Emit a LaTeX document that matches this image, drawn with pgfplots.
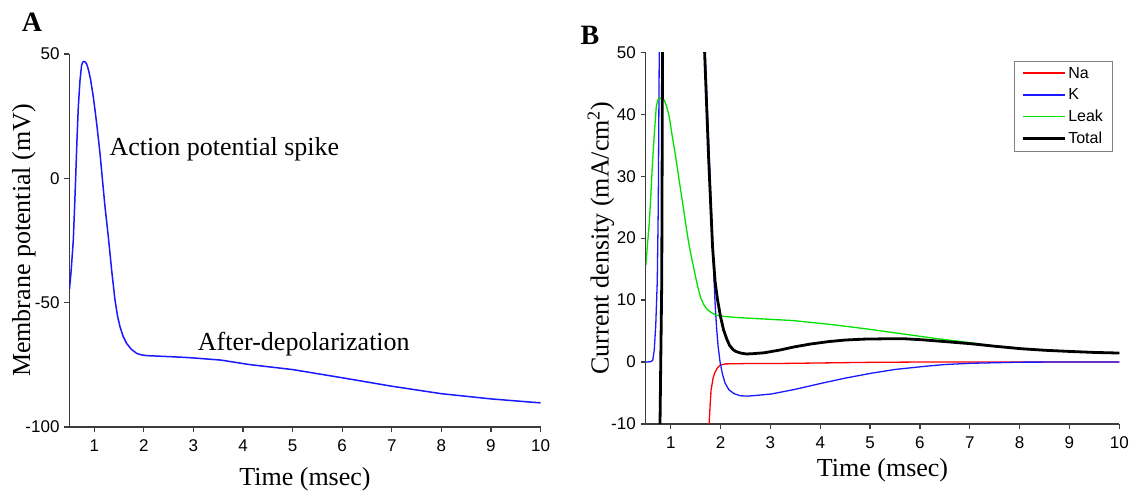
\documentclass[border=0pt]{standalone}
\usepackage{fontspec}
\setmainfont{Liberation Serif}
\newfontfamily\sansf{Liberation Sans}
\usepackage{pgfplots}
\pgfplotsset{compat=1.18}

\definecolor{axgray}{RGB}{60,60,60}
\definecolor{vblue}{RGB}{25,25,255}
\definecolor{lgreen}{RGB}{0,225,0}
\definecolor{nared}{RGB}{255,0,0}

\pgfplotsset{
  panel/.style={
    scale only axis,
    axis x line*=bottom, axis y line*=left,
    axis line style={draw=axgray, line width=1.2pt},
    tick style={draw=axgray, line width=1.2pt},
    tick align=outside, major tick length=5pt,
    xmin=0.5, xmax=10, xtick={1,...,10},
    tick label style={font=\fontsize{17}{17}\selectfont\sansf},
    xticklabel style={yshift=-4pt},
    yticklabel style={xshift=-1.5pt},
    /pgf/number format/assume math mode=true,
    label style={font=\fontsize{26}{26}\selectfont},
  }
}

\begin{document}
\begin{tikzpicture}
\useasboundingbox (0,0) rectangle (1138pt,491pt);

% panel A: membrane potential
\begin{axis}[panel,
    at={(69.5pt,64pt)}, anchor=south west,
    width=471pt, height=373pt,
    ymin=-100, ymax=50, ytick={-100,-50,0,50},
    xlabel={Time (msec)},
    xlabel style={at={(axis description cs:0.5,-0.139)}, anchor=center},
    ylabel={Membrane potential (mV)},
    ylabel style={at={(axis description cs:-0.097,0.5)}, anchor=center},
]
\addplot[vblue, line width=1.5pt] coordinates {
(0.50,-44.5) (0.53,-38) (0.555,-31) (0.577,-24.8) (0.60,-13) (0.624,0)
(0.65,15) (0.678,28.8) (0.712,39.5) (0.745,45.6) (0.77,46.8) (0.79,47.0)
(0.815,46.8) (0.84,46.2) (0.86,45.2) (0.89,43) (0.927,39.5) (0.98,32.8)
(1.048,22.1) (1.115,10.1) (1.162,0) (1.216,-11.4) (1.283,-23.5) (1.35,-36.9)
(1.418,-49) (1.47,-55.5) (1.519,-59.7) (1.58,-63.5) (1.653,-66.4) (1.75,-68.8)
(1.855,-70.4) (1.95,-71) (2.06,-71.3) (2.4,-71.6) (2.73,-71.9) (2.98,-72.2)
(3.56,-73.1) (4.13,-74.9) (5.00,-76.9) (6.00,-80.2) (7.00,-83.6) (8.00,-86.6)
(9.00,-88.7) (10.0,-90.3)
};
\node[anchor=base west, font=\fontsize{26}{26}\selectfont] at (axis cs:1.236,9) {Action potential spike};
\node[anchor=base west, font=\fontsize{26}{26}\selectfont] at (axis cs:3.02,-69.4) {After-depolarization};
\end{axis}

% panel B: currents
\begin{axis}[panel,
    at={(645.8pt,67pt)}, anchor=south west,
    width=473.5pt, height=371.7pt,
    ymin=-10, ymax=50, ytick={-10,0,...,50},
    xlabel={Time (msec)},
    xlabel style={at={(axis description cs:0.5,-0.124)}, anchor=center},
    ylabel={Current density (mA/cm\textsuperscript{2})},
    ylabel style={at={(axis description cs:-0.095,0.5)}, anchor=center},
    legend style={at={(0.985,0.977)}, anchor=north east, draw=gray,
      font=\fontsize{16}{16}\selectfont\sansf, row sep=5pt,
      inner xsep=7pt, inner ysep=4pt},
    legend cell align=left,
    legend image code/.code={\draw[#1] (0pt,0pt) -- (42pt,0pt);},
]
\addplot[color=nared, line width=1.3pt, legend image post style={line width=1.7pt}] coordinates {
(0.5,-40) (0.8,-300) (1.2,-150) (1.6,-30) (1.72,-13) (1.77,-10) (1.79,-7)
(1.81,-4.5) (1.85,-2.6) (1.88,-1.8) (1.94,-0.9) (1.99,-0.5) (2.1,-0.3)
(2.5,-0.25) (3.0,-0.25) (4.0,-0.15) (5.0,-0.05) (6.0,0) (10,0)
};
\addlegendentry{Na}
\addplot[color=vblue, line width=1.3pt, legend image post style={line width=1.7pt}] coordinates {
(0.5,0) (0.6,0.05) (0.64,0.3) (0.67,2) (0.70,6) (0.73,13) (0.75,25) (0.77,50)
(0.8,120) (1.2,400) (1.6,120) (1.69,50) (1.78,31.6) (1.84,19) (1.87,13.2)
(1.89,9.5) (1.92,5.5) (1.95,2.6) (1.99,0) (2.04,-2) (2.09,-3.4) (2.17,-4.5)
(2.27,-5.1) (2.4,-5.45) (2.55,-5.5) (2.7,-5.4) (3.02,-5.16) (3.5,-4.4)
(4.02,-3.44) (4.5,-2.6) (5.03,-1.8) (5.5,-1.2) (6.03,-0.75) (6.5,-0.4)
(7.03,-0.2) (8.03,-0.02) (9,0) (10,0)
};
\addlegendentry{K}
\addplot[color=lgreen, line width=1.3pt, legend image post style={line width=1.7pt}] coordinates {
(0.5,15.6) (0.53,18.6) (0.57,22.5) (0.6,26.8) (0.63,31.5) (0.667,36.4)
(0.71,41.2) (0.74,42.3) (0.77,42.6) (0.82,42.6) (0.87,42.3) (0.92,41.2)
(0.97,39.6) (1.03,36.5) (1.1,33.1) (1.17,29.3) (1.24,25.6) (1.31,21.8)
(1.37,18.8) (1.44,16) (1.5,13.7) (1.55,11.9) (1.6,10.4) (1.66,9.3)
(1.73,8.5) (1.81,8.0) (1.9,7.6) (2.02,7.4) (2.3,7.2) (2.74,7.0) (3.45,6.7)
(4.17,6.1) (4.88,5.4) (5.6,4.6) (6.32,3.8) (7.03,3.1) (7.5,2.6) (8.03,2.2)
(8.5,1.95) (9,1.75) (9.5,1.6) (10,1.45)
};
\addlegendentry{Leak}
\addplot[color=black, line width=2.8pt] coordinates {
(0.5,-60) (0.7,-200) (0.77,-30) (0.785,-10) (0.80,0) (0.82,13) (0.835,50)
(0.9,200) (1.3,400) (1.6,150) (1.68,50) (1.76,33) (1.84,18.5) (1.89,13)
(1.94,10) (2.0,7.3) (2.06,5.2) (2.12,3.8) (2.18,2.7) (2.25,2.0) (2.31,1.7)
(2.4,1.45) (2.52,1.3) (2.65,1.35) (2.88,1.5) (3.2,1.95) (3.45,2.4) (3.8,2.9)
(4.17,3.3) (4.5,3.55) (4.88,3.7) (5.3,3.75) (5.7,3.75) (6.03,3.6) (6.5,3.3)
(7.03,2.95) (7.5,2.55) (8.03,2.15) (8.5,1.9) (9.03,1.7) (9.5,1.55) (10,1.45)
};
\addlegendentry{Total}
\end{axis}

\node[font=\fontsize{28}{28}\selectfont\bfseries] at (32pt,468.5pt) {A};
\node[font=\fontsize{28}{28}\selectfont\bfseries] at (590pt,456pt) {B};
\end{tikzpicture}
\end{document}
